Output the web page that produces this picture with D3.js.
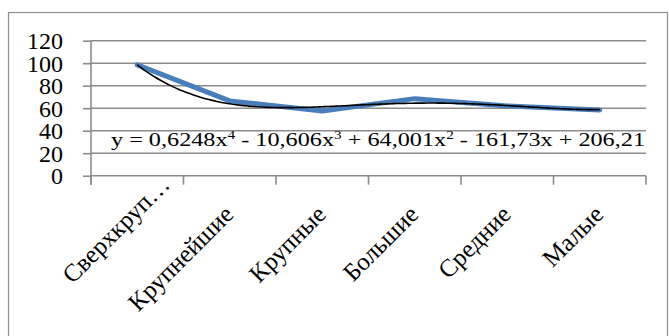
<!DOCTYPE html>
<html><head><meta charset="utf-8">
<script src="https://cdn.jsdelivr.net/npm/d3@7"></script>
<style>
html,body{margin:0;padding:0;background:#fff;}
svg{display:block;}
text{font-family:"Liberation Serif","Times New Roman",serif;fill:#000;}
</style></head>
<body>
<svg id="chart" width="669" height="336"></svg>
<script>
const categories = ["Сверхкруп…", "Крупнейшие", "Крупные", "Большие", "Средние", "Малые"];
const values = [98.5, 66.5, 57.5, 68.5, 62, 58.5];
const yTicks = [0, 20, 40, 60, 80, 100, 120];
// Polynomial trendline coefficients (x^4, x^3, x^2, x, const), as printed on the chart
const trendCoefs = [0.6248, -10.606, 64.001, -161.73, 206.21];

const svg = d3.select("#chart");
const W = 669, H = 336;
const m = {left: 91, right: 23, top: 40.7, plotBottom: 175.7};

// chart area border
svg.append("rect").attr("x", 8.5).attr("y", 12.5).attr("width", 659).attr("height", 340)
  .attr("fill", "#fff").attr("stroke", "#8f8f8f").attr("stroke-width", 1.2);

const x = d3.scaleBand().domain(categories).range([m.left, W - m.right]).paddingInner(0).paddingOuter(0);
const y = d3.scaleLinear().domain([0, 120]).range([m.plotBottom, m.top]);
const gridColor = "#8c8c8c";

// gridlines
svg.append("g").selectAll("line").data(yTicks).join("line")
  .attr("x1", m.left).attr("x2", W - m.right)
  .attr("y1", d => y(d)).attr("y2", d => y(d))
  .attr("stroke", gridColor).attr("stroke-width", 1.6);

// y axis
const yAxis = svg.append("g").attr("transform", `translate(${m.left},0)`)
  .call(d3.axisLeft(y).tickValues(yTicks).tickSize(8).tickPadding(20).tickFormat(d3.format("d")));
yAxis.select(".domain").attr("stroke", gridColor).attr("stroke-width", 1.6)
  .attr("d", `M0,${y(120)}V${y(0) + 9}`);
yAxis.selectAll(".tick line").attr("stroke", gridColor).attr("stroke-width", 1.6);
yAxis.selectAll(".tick text").attr("font-size", 24).attr("font-family", "Liberation Serif").attr("fill", "#000")
  .attr("dy", "0.33em");

// x axis tick marks at category boundaries
const bounds = categories.map(c => x(c)).concat([x(categories[categories.length - 1]) + x.bandwidth()]);
svg.append("g").selectAll("line").data(bounds).join("line")
  .attr("x1", d => d).attr("x2", d => d)
  .attr("y1", y(0)).attr("y2", y(0) + 9)
  .attr("stroke", gridColor).attr("stroke-width", 1.6);

// category labels, rotated -45
const cx = c => x(c) + x.bandwidth() / 2;
svg.append("g").selectAll("text").data(categories).join("text")
  .attr("text-anchor", "end")
  .attr("font-size", 25)
  .attr("transform", (d, i) => {
    const px = i === 0 ? cx(d) + 34 : cx(d) + 5;
    const py = i === 0 ? 186 : 216;
    return `translate(${px},${py}) rotate(-45)`;
  })
  .text(d => d);

// data line
const line = d3.line().x(d => cx(d.c)).y(d => y(d.v));
const pts = categories.map((c, i) => ({c, v: values[i]}));
svg.append("path").datum(pts).attr("d", line)
  .attr("fill", "none").attr("stroke", "#4a7ebb").attr("stroke-width", 5)
  .attr("stroke-linejoin", "round").attr("stroke-linecap", "round");

// trendline from the printed coefficients
const xi = d3.scaleLinear().domain([1, categories.length]).range([cx(categories[0]), cx(categories[categories.length - 1])]);
const poly = t => trendCoefs.reduce((acc, k) => acc * t + k, 0);
const tpts = d3.range(1, categories.length + 0.001, 0.05).map(t => [xi(t), y(poly(t))]);
svg.append("path").datum(tpts).attr("d", d3.line().curve(d3.curveMonotoneX))
  .attr("fill", "none").attr("stroke", "#000").attr("stroke-width", 1.6);

// equation label
const eq = svg.append("text").attr("x", 111).attr("y", 146).attr("font-size", 19)
  .attr("textLength", 534).attr("lengthAdjust", "spacingAndGlyphs");
const parts = [["y = 0,6248x", false], ["4", true], [" - 10,606x", false], ["3", true],
  [" + 64,001x", false], ["2", true], [" - 161,73x + 206,21", false]];
parts.forEach(([t, sup]) => {
  const ts = eq.append("tspan").text(t);
  if (sup) ts.attr("font-size", 12).attr("dy", -7);
  else ts.attr("dy", 0);
});
// reset baselines after superscripts
eq.selectAll("tspan").each(function(d, i) {
  if (i > 0 && parts[i - 1][1]) d3.select(this).attr("dy", 7);
});
</script>
</body></html>
